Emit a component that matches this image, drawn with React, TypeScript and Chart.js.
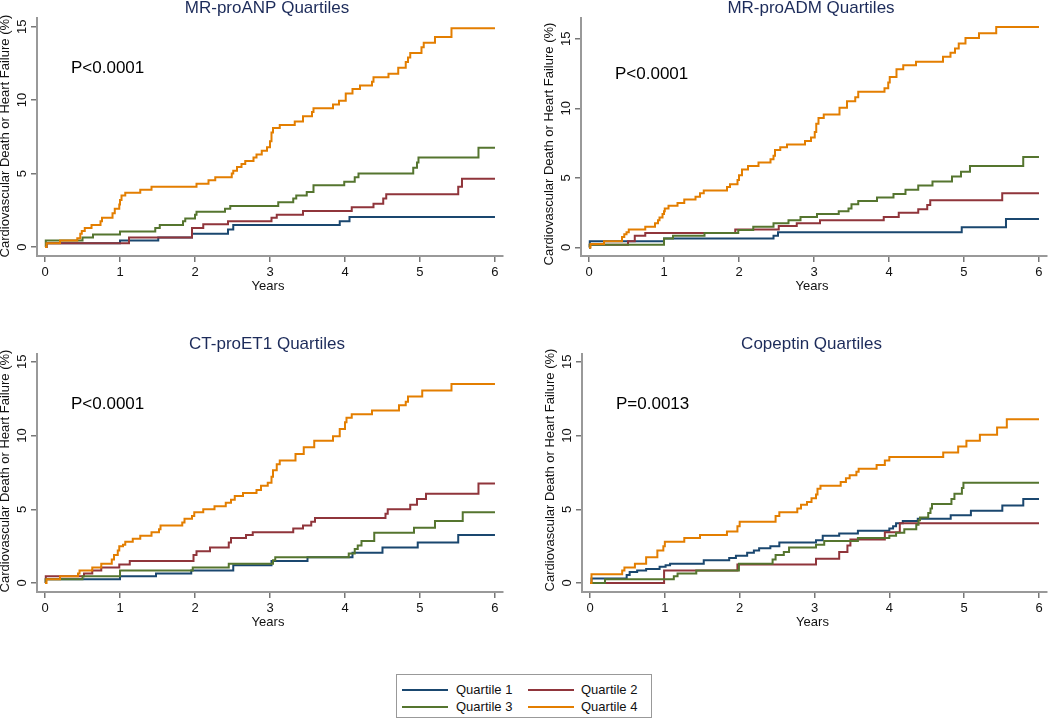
import React, { useEffect, useRef } from "react";
import { Chart, registerables } from "chart.js";

Chart.register(...registerables);

const FONT = '"Liberation Sans", Arial, Helvetica, sans-serif';

// ---------- labels ----------
const QUARTILE_LABELS = ["Quartile 1", "Quartile 2", "Quartile 3", "Quartile 4"];
const QUARTILE_COLORS = ["#1a476f", "#90353b", "#55752f", "#e37e00"];
const X_TICKS = [0, 1, 2, 3, 4, 5, 6];
const Y_TICKS = [0, 5, 10, 15];
const X_TITLE = "Years";
const Y_TITLE = "Cardiovascular Death or Heart Failure (%)";
const PANEL_TITLES = ["MR-proANP Quartiles", "MR-proADM Quartiles", "CT-proET1 Quartiles", "Copeptin Quartiles"];
const P_VALUES = ["P<0.0001", "P<0.0001", "P<0.0001", "P=0.0013"];
const END_YEAR = 6;

// ---------- data: [years, cumulative %] at each step ----------
const anpQ1 = [[0, 0], [0.02, 0.25], [1.0, 0.45], [1.51, 0.65], [1.96, 0.9], [2.44, 1.2], [2.51, 1.5], [3.93, 1.75], [4.06, 2.05]];
const anpQ2 = [[0, 0], [0.02, 0.25], [1.12, 0.65], [1.96, 1.3], [2.11, 1.55], [2.44, 1.75], [3.02, 2.0], [3.09, 2.2], [3.44, 2.45], [4.09, 2.7], [4.38, 2.95], [4.51, 3.3], [4.55, 3.6], [5.51, 4.1], [5.56, 4.65]];
const anpQ3 = [[0, 0], [0.01, 0.45], [0.5, 0.65], [0.64, 0.85], [1.0, 1.05], [1.47, 1.3], [1.53, 1.5], [1.84, 1.75], [1.87, 1.95], [2.0, 2.2], [2.02, 2.4], [2.4, 2.6], [2.47, 2.8], [3.11, 3.05], [3.31, 3.3], [3.35, 3.5], [3.49, 3.75], [3.58, 4.2], [3.99, 4.45], [4.13, 4.75], [4.18, 5.0], [4.91, 5.4], [4.96, 5.75], [4.98, 6.1], [5.78, 6.75]];
const anpQ4 = [[0, 0], [0.02, 0.25], [0.2, 0.45], [0.43, 0.6], [0.47, 0.9], [0.49, 1.1], [0.53, 1.3], [0.62, 1.5], [0.74, 1.75], [0.76, 2.0], [0.9, 2.3], [0.93, 2.6], [0.99, 2.9], [1.0, 3.2], [1.02, 3.5], [1.07, 3.7], [1.27, 3.9], [1.42, 4.1], [2.02, 4.3], [2.18, 4.55], [2.27, 4.75], [2.49, 5.0], [2.51, 5.2], [2.56, 5.45], [2.62, 5.65], [2.67, 5.85], [2.78, 6.1], [2.82, 6.3], [2.89, 6.55], [2.96, 6.8], [3.0, 7.2], [3.02, 7.8], [3.04, 8.1], [3.13, 8.3], [3.33, 8.55], [3.44, 8.9], [3.56, 9.2], [3.58, 9.45], [3.84, 9.7], [3.92, 9.95], [4.01, 10.45], [4.1, 10.75], [4.2, 11.0], [4.36, 11.25], [4.38, 11.55], [4.58, 11.8], [4.71, 12.2], [4.81, 12.6], [4.84, 12.9], [4.87, 13.2], [5.02, 13.6], [5.05, 13.9], [5.2, 14.3], [5.42, 14.9]];

const admQ1 = [[0, 0], [0.01, 0.45], [1.0, 0.65], [2.46, 0.85], [2.52, 1.1], [4.97, 1.45], [5.56, 2.05]];
const admQ2 = [[0, 0], [0.01, 0.2], [0.52, 0.45], [0.61, 0.85], [0.75, 1.05], [1.95, 1.3], [2.53, 1.55], [2.77, 1.75], [3.08, 1.95], [3.93, 2.2], [4.13, 2.5], [4.39, 2.75], [4.51, 3.05], [4.55, 3.4], [5.51, 3.9]];
const admQ3 = [[0, 0], [0.01, 0.2], [1.0, 0.65], [1.12, 0.85], [1.54, 1.05], [1.99, 1.25], [2.19, 1.5], [2.46, 1.75], [2.66, 1.95], [2.82, 2.2], [3.04, 2.4], [3.33, 2.6], [3.46, 2.8], [3.5, 3.1], [3.59, 3.35], [3.84, 3.6], [4.06, 3.85], [4.22, 4.15], [4.39, 4.45], [4.58, 4.75], [4.84, 5.1], [4.96, 5.45], [5.08, 5.85], [5.79, 6.5]];
const admQ4 = [[0, 0], [0.02, 0.25], [0.2, 0.45], [0.44, 0.75], [0.47, 0.95], [0.5, 1.1], [0.53, 1.3], [0.75, 1.5], [0.88, 1.75], [0.92, 1.95], [0.94, 2.15], [0.98, 2.4], [1.0, 2.6], [1.01, 2.8], [1.06, 3.0], [1.18, 3.2], [1.27, 3.45], [1.42, 3.65], [1.48, 3.9], [1.53, 4.1], [1.84, 4.35], [1.88, 4.55], [1.98, 4.85], [2.0, 5.2], [2.04, 5.6], [2.12, 5.85], [2.26, 6.1], [2.42, 6.35], [2.46, 6.6], [2.48, 7.0], [2.55, 7.2], [2.64, 7.4], [2.88, 7.65], [2.96, 7.9], [3.01, 8.3], [3.03, 8.9], [3.06, 9.3], [3.13, 9.55], [3.34, 10.05], [3.44, 10.5], [3.55, 10.8], [3.59, 11.2], [3.94, 11.45], [3.99, 11.85], [4.01, 12.25], [4.1, 12.8], [4.19, 13.1], [4.36, 13.35], [4.72, 13.7], [4.82, 14.0], [4.88, 14.3], [4.93, 14.65], [5.02, 15.05], [5.2, 15.4], [5.43, 15.85]];

const et1Q1 = [[0, 0], [0.01, 0.25], [1.0, 0.45], [1.48, 0.65], [1.95, 0.85], [2.51, 1.2], [3.02, 1.5], [3.5, 1.75], [4.1, 2.05], [4.5, 2.4], [4.97, 2.75], [5.51, 3.25]];
const et1Q2 = [[0, 0], [0.01, 0.45], [0.52, 0.65], [0.63, 0.85], [0.75, 1.05], [0.99, 1.25], [1.13, 1.5], [1.98, 1.9], [2.02, 2.15], [2.2, 2.4], [2.45, 2.75], [2.48, 3.05], [2.68, 3.25], [2.77, 3.45], [3.31, 3.7], [3.44, 3.9], [3.55, 4.15], [3.6, 4.4], [4.54, 4.7], [4.57, 5.0], [4.87, 5.3], [4.96, 5.7], [5.08, 6.05], [5.78, 6.75]];
const et1Q3 = [[0, 0], [0.01, 0.25], [0.5, 0.45], [1.0, 0.85], [1.97, 1.05], [2.45, 1.3], [3.04, 1.55], [3.07, 1.75], [4.05, 2.0], [4.13, 2.3], [4.17, 2.55], [4.22, 2.85], [4.39, 3.4], [4.92, 3.75], [5.2, 4.2], [5.57, 4.8]];
const et1Q4 = [[0, 0], [0.02, 0.25], [0.2, 0.45], [0.44, 0.65], [0.46, 0.85], [0.63, 1.05], [0.75, 1.3], [0.89, 1.6], [0.92, 1.9], [0.97, 2.2], [0.99, 2.5], [1.04, 2.6], [1.07, 2.8], [1.17, 3.0], [1.27, 3.2], [1.42, 3.45], [1.52, 3.65], [1.54, 3.9], [1.83, 4.1], [1.86, 4.35], [1.96, 4.55], [1.99, 4.8], [2.11, 5.0], [2.26, 5.2], [2.41, 5.45], [2.48, 5.65], [2.53, 5.9], [2.64, 6.1], [2.82, 6.3], [2.88, 6.6], [2.97, 6.8], [3.02, 7.2], [3.04, 7.65], [3.09, 8.05], [3.13, 8.3], [3.34, 8.75], [3.45, 9.2], [3.59, 9.65], [3.84, 9.95], [3.93, 10.45], [4.0, 10.9], [4.02, 11.2], [4.09, 11.45], [4.36, 11.7], [4.72, 12.05], [4.81, 12.3], [4.84, 12.65], [5.03, 13.05], [5.42, 13.5]];

const copQ1 = [[0, 0], [0.02, 0.3], [0.49, 0.55], [0.53, 0.75], [0.63, 0.85], [0.75, 0.95], [0.93, 1.1], [1.01, 1.2], [1.07, 1.3], [1.52, 1.55], [1.86, 1.7], [1.95, 1.85], [2.1, 2.05], [2.19, 2.2], [2.26, 2.35], [2.41, 2.5], [2.53, 2.75], [3.02, 2.9], [3.11, 3.2], [3.33, 3.35], [3.58, 3.55], [4.0, 3.7], [4.05, 3.85], [4.09, 4.05], [4.18, 4.2], [4.38, 4.35], [4.82, 4.6], [5.09, 4.9], [5.51, 5.25], [5.79, 5.7]];
const copQ2 = [[0, 0], [0.99, 0.85], [1.97, 1.25], [3.02, 1.65], [3.33, 2.1], [3.44, 2.55], [3.48, 2.95], [3.94, 3.45], [4.14, 4.05]];
const copQ3 = [[0, 0], [0.2, 0.25], [1.12, 0.45], [1.17, 0.65], [1.42, 0.85], [1.99, 1.3], [2.44, 1.6], [2.48, 1.9], [2.59, 2.1], [2.66, 2.4], [3.02, 2.6], [3.13, 2.85], [3.58, 3.05], [4.0, 3.2], [4.09, 3.4], [4.2, 3.65], [4.36, 3.95], [4.39, 4.25], [4.41, 4.45], [4.52, 4.75], [4.55, 5.05], [4.57, 5.35], [4.83, 5.7], [4.87, 6.05], [4.97, 6.45], [4.99, 6.8]];
const copQ4 = [[0, 0], [0.02, 0.6], [0.43, 0.85], [0.46, 1.05], [0.6, 1.3], [0.75, 1.75], [0.9, 2.2], [0.98, 2.5], [1.0, 2.8], [1.26, 3.05], [1.47, 3.25], [1.83, 3.5], [1.97, 3.85], [2.0, 4.15], [2.48, 4.55], [2.53, 4.8], [2.77, 5.05], [2.82, 5.3], [2.9, 5.5], [2.96, 5.75], [3.02, 6.0], [3.04, 6.4], [3.08, 6.6], [3.35, 6.85], [3.42, 7.1], [3.47, 7.3], [3.56, 7.55], [3.59, 7.75], [3.83, 8.0], [3.94, 8.3], [4.0, 8.55], [4.72, 8.85], [4.92, 9.25], [5.03, 9.65], [5.21, 10.05], [5.44, 10.55], [5.57, 11.1]];

// ---------- layout per panel ----------
const PANEL_W = 525;
const PANEL_H = 336;
const PANELS = [
  { title: PANEL_TITLES[0], p: P_VALUES[0], series: [anpQ1, anpQ2, anpQ3, anpQ4], col: 0, row: 0, yMax: 15.59, left: 37, right: 503, pY: 73, yTitleY: 136 },
  { title: PANEL_TITLES[1], p: P_VALUES[1], series: [admQ1, admQ2, admQ3, admQ4], col: 1, row: 0, yMax: 16.49, left: 56, right: 522, pY: 79, yTitleY: 144 },
  { title: PANEL_TITLES[2], p: P_VALUES[2], series: [et1Q1, et1Q2, et1Q3, et1Q4], col: 0, row: 1, yMax: 15.53, left: 37, right: 503, pY: 73, yTitleY: 135 },
  { title: PANEL_TITLES[3], p: P_VALUES[3], series: [copQ1, copQ2, copQ3, copQ4], col: 1, row: 1, yMax: 15.53, left: 57, right: 522, pY: 73, yTitleY: 134 },
];

function toPoints(steps: number[][]) {
  const pts = steps.map(([x, y]) => ({ x, y }));
  pts.push({ x: END_YEAR, y: steps[steps.length - 1][1] });
  return pts;
}

function Panel({ cfg }: { cfg: any }) {
  const ref = useRef<HTMLCanvasElement | null>(null);
  useEffect(() => {
    if (!ref.current) return;
    const textPlugin = {
      id: "panelText",
      afterDraw(chart: any) {
        const { ctx, chartArea: ca, scales } = chart;
        const xs = scales.x;
        const ys = scales.y;
        const cx = (ca.left + ca.right) / 2;
        ctx.save();
        // title
        ctx.fillStyle = "#1c2b5a";
        ctx.font = `17px ${FONT}`;
        ctx.textAlign = "center";
        ctx.textBaseline = "alphabetic";
        ctx.fillText(cfg.title, cx - 3, 13);
        // p-value
        ctx.fillStyle = "#000";
        ctx.textAlign = "left";
        ctx.fillText(cfg.p, ca.left + 34, cfg.pY);
        // x ticks
        ctx.font = `13px ${FONT}`;
        ctx.fillStyle = "#111";
        ctx.textAlign = "center";
        ctx.textBaseline = "middle";
        for (const t of X_TICKS) ctx.fillText(String(t), xs.getPixelForValue(t), 272);
        ctx.fillText(X_TITLE, cx - 2, 286);
        // y ticks rotated
        for (const v of Y_TICKS) {
          ctx.save();
          ctx.translate(ca.left - 15, ys.getPixelForValue(v));
          ctx.rotate(-Math.PI / 2);
          ctx.fillText(String(v), 0, 0);
          ctx.restore();
        }
        // y title
        ctx.save();
        ctx.translate(ca.left - 32, cfg.yTitleY);
        ctx.rotate(-Math.PI / 2);
        ctx.fillText(Y_TITLE, 0, 0);
        ctx.restore();
        ctx.restore();
      },
    };
    const datasets = cfg.series.map((s: number[][], i: number) => ({
      label: QUARTILE_LABELS[i],
      data: toPoints(s),
      borderColor: QUARTILE_COLORS[i],
      backgroundColor: QUARTILE_COLORS[i],
      borderWidth: 2,
      pointRadius: 0,
      stepped: "before",
      fill: false,
      order: 3 - i,
    }));
    const chart = new Chart(ref.current, {
      type: "line",
      data: { datasets },
      options: {
        animation: false,
        responsive: false,
        devicePixelRatio: 1,
        layout: { padding: { top: 18, right: PANEL_W - cfg.right, left: 0, bottom: 0 } },
        plugins: { legend: { display: false }, tooltip: { enabled: false }, title: { display: false } },
        scales: {
          x: {
            type: "linear",
            min: -0.107,
            max: 6.107,
            ticks: { display: false },
            afterBuildTicks: (s: any) => { s.ticks = X_TICKS.map((v) => ({ value: v })); },
            afterFit: (s: any) => { s.height = PANEL_H - 256; },
            grid: { display: true, drawOnChartArea: false, drawTicks: true, tickLength: 6, color: "#777", lineWidth: 1.5 },
            border: { display: true, color: "#999", width: 2 },
          },
          y: {
            type: "linear",
            min: -0.61,
            max: cfg.yMax,
            ticks: { display: false },
            afterBuildTicks: (s: any) => { s.ticks = Y_TICKS.map((v) => ({ value: v })); },
            afterFit: (s: any) => { s.width = cfg.left; },
            grid: { display: true, drawOnChartArea: false, drawTicks: true, tickLength: 6, color: "#777", lineWidth: 1.5 },
            border: { display: true, color: "#999", width: 2 },
          },
        },
      },
      plugins: [textPlugin],
    } as any);
    return () => chart.destroy();
  }, [cfg]);
  return (
    <canvas
      ref={ref}
      width={PANEL_W}
      height={PANEL_H}
      style={{ position: "absolute", left: cfg.col * PANEL_W, top: cfg.row * PANEL_H, width: PANEL_W, height: PANEL_H }}
    />
  );
}

function Legend() {
  const rows = [[0, 1], [2, 3]];
  const rowY = [15, 32];
  const colLine = [5, 131];
  const colText = [59, 184];
  return (
    <div
      style={{
        position: "absolute",
        left: 396,
        top: 674,
        width: 256,
        height: 44,
        boxSizing: "border-box",
        border: "1px solid #999",
        background: "#fff",
        fontFamily: FONT,
        fontSize: 13,
        color: "#111",
      }}
    >
      {rows.map((r, ri) =>
        r.map((qi, ci) => (
          <React.Fragment key={qi}>
            <div style={{ position: "absolute", left: colLine[ci], top: rowY[ri] - 1, width: 46, height: 2, background: QUARTILE_COLORS[qi] }} />
            <div style={{ position: "absolute", left: colText[ci], top: rowY[ri] - 8, lineHeight: "16px", whiteSpace: "nowrap" }}>{QUARTILE_LABELS[qi]}</div>
          </React.Fragment>
        ))
      )}
    </div>
  );
}

export default function App() {
  return (
    <div style={{ position: "absolute", left: 0, top: 0, width: 1050, height: 718, background: "#fff", overflow: "hidden" }}>
      {PANELS.map((p, i) => (
        <Panel key={i} cfg={p} />
      ))}
      <Legend />
    </div>
  );
}
